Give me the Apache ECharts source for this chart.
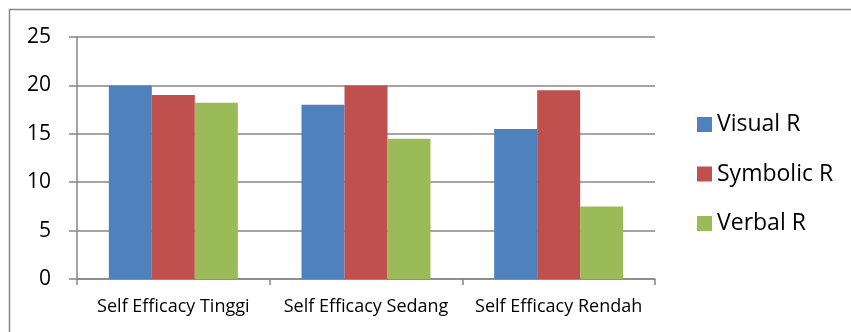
<!DOCTYPE html>
<html>
<head>
<meta charset="utf-8">
<script src="https://cdn.jsdelivr.net/npm/echarts@6/dist/echarts.min.js"></script>
<style>
  html, body { margin: 0; padding: 0; background: #fff; }
  #chart { width: 851px; height: 332px; }
</style>
</head>
<body>
<div id="chart"></div>
<script>
// categories and values
var categories = ['Self Efficacy Tinggi', 'Self Efficacy Sedang', 'Self Efficacy Rendah'];
var visualR = [20, 18, 15.5];
var symbolicR = [19, 20, 19.5];
var verbalR = [18.2, 14.5, 7.5];

var gray = '#868686';
var font = '"Open Sans", sans-serif';

var myChart = echarts.init(document.getElementById('chart'));

function bar(name, data, color) {
    return {
        name: name,
        type: 'bar',
        data: data,
        barWidth: 43,
        barGap: '0%',
        itemStyle: { color: color }
    };
}

var options = {
    animation: false,
    textStyle: { fontFamily: font },
    graphic: [{
        type: 'rect',
        left: 7, top: 7,
        shape: { width: 900, height: 400 },
        style: { fill: 'none', stroke: gray, lineWidth: 1.5 },
        silent: true
    }],
    grid: { left: 77, right: 196, top: 37, bottom: 53 },
    legend: {
        orient: 'vertical',
        left: 692,
        top: 108,
        itemWidth: 15,
        itemHeight: 15,
        itemGap: 26.5,
        icon: 'rect',
        textStyle: { fontSize: 23, color: '#000', fontFamily: font },
        data: ['Visual R', 'Symbolic R', 'Verbal R']
    },
    xAxis: {
        type: 'category',
        data: categories,
        axisLine: { lineStyle: { color: gray, width: 1.5 } },
        axisTick: { show: true, length: 6, lineStyle: { color: gray, width: 1.5 } },
        axisLabel: { fontSize: 18, color: '#000', margin: 19, interval: 0, hideOverlap: false, fontFamily: font }
    },
    yAxis: {
        type: 'value',
        min: 0,
        max: 25,
        interval: 5,
        axisLine: { show: true, lineStyle: { color: gray, width: 1.5 } },
        axisTick: { show: true, inside: false, length: 8, lineStyle: { color: gray, width: 1.5 } },
        splitLine: { lineStyle: { color: gray, width: 1.5 } },
        axisLabel: { fontSize: 21, color: '#000', margin: 26, fontFamily: font }
    },
    series: [
        bar('Visual R', visualR, '#4f81bd'),
        bar('Symbolic R', symbolicR, '#c0504d'),
        bar('Verbal R', verbalR, '#9bbb59')
    ]
};

myChart.setOption(options);
</script>
</body>
</html>
